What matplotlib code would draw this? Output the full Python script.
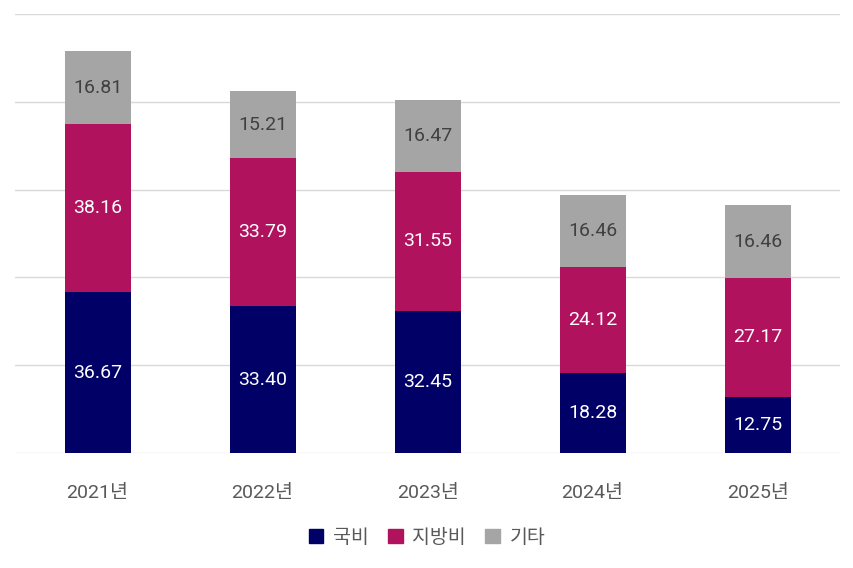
import matplotlib
matplotlib.use('Agg')
import matplotlib.pyplot as plt
import numpy as np

plt.rcParams['font.family'] = ['Roboto', 'Noto Sans CJK KR', 'DejaVu Sans']

years = ['2021년', '2022년', '2023년', '2024년', '2025년']
gukbi = [36.67, 33.40, 32.45, 18.28, 12.75]
jibang = [38.16, 33.79, 31.55, 24.12, 27.17]
gita = [16.81, 15.21, 16.47, 16.46, 16.46]
series_names = ['국비', '지방비', '기타']
colors = ['#000066', '#b0125e', '#a5a5a5']
text_colors = ['white', 'white', '#404040']

fig = plt.figure(figsize=(8.54, 5.68), dpi=100)
ax = fig.add_axes([15/854, 1 - 453/568, 825/854, 439/568])

x = np.arange(len(years))
bottom = np.zeros(len(years))
for vals, name, c, tc in zip([gukbi, jibang, gita], series_names, colors, text_colors):
    vals = np.array(vals)
    ax.bar(x, vals, 0.4, bottom=bottom, color=c, label=name, zorder=3)
    for xi, b, v in zip(x, bottom, vals):
        ax.text(xi, b + v / 2, f'{v:.2f}', ha='center', va='center',
                color=tc, fontsize=14, zorder=4)
    bottom += vals

ax.set_xlim(-0.5, 4.5)
ax.set_ylim(0, 100)
ax.set_yticks(np.arange(0, 101, 20))
ax.yaxis.grid(True, color='#d9d9d9', linewidth=1, zorder=0)
ax.tick_params(axis='y', left=False, labelleft=False)
ax.tick_params(axis='x', bottom=False, pad=19)
ax.set_xticks(x)
ax.set_xticklabels(years, fontsize=14, color='#595959')
for s in ax.spines.values():
    s.set_visible(False)

handles = [plt.Rectangle((0, 0), 1, 1, color=c) for c in colors]
fig.legend(handles, series_names, loc='center', bbox_to_anchor=(0.5, 1 - 538/568),
           ncol=3, frameon=False, fontsize=14, handlelength=0.75, handleheight=0.75,
           handletextpad=0.5, columnspacing=1.0, labelcolor='#595959')

fig.savefig('out.png', dpi=100)
